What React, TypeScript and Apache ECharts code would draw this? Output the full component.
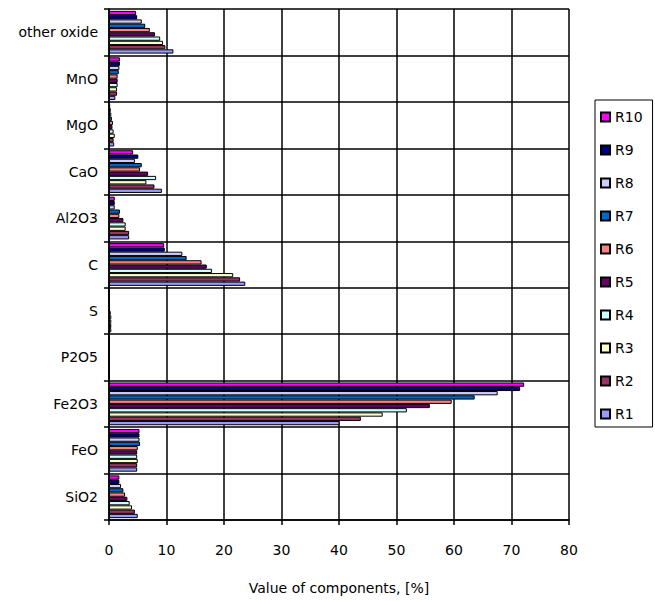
import React, { useEffect, useRef } from "react";
import * as echarts from "echarts";

const categories = ["SiO2", "FeO", "Fe2O3", "P2O5", "S", "C", "Al2O3", "CaO", "MgO", "MnO", "other oxide"];
const seriesNames = ["R1", "R2", "R3", "R4", "R5", "R6", "R7", "R8", "R9", "R10"];
const seriesColors = ["#9999FF", "#993366", "#FFFFCC", "#CCFFFF", "#660066", "#FF8080", "#0066CC", "#CCCCFF", "#000080", "#FF00FF"];
const xTicks = [0, 10, 20, 30, 40, 50, 60, 70, 80];

// values per category, R1..R10
const sio2 = [5.0, 4.5, 4.0, 3.6, 3.2, 2.8, 2.5, 2.1, 1.8, 1.8];
const feo = [4.9, 4.9, 5.0, 4.9, 4.9, 5.0, 5.4, 5.3, 5.3, 5.3];
const fe2o3 = [40.1, 43.8, 47.6, 51.8, 55.8, 59.6, 63.6, 67.6, 71.5, 72.2];
const p2o5 = [0, 0, 0, 0, 0, 0, 0, 0, 0, 0];
const s = [0.4, 0.4, 0.4, 0.4, 0.3, 0, 0, 0, 0, 0];
const c = [23.7, 22.8, 21.6, 17.9, 17.0, 16.1, 13.5, 12.75, 9.7, 9.6];
const al2o3 = [3.5, 3.5, 2.9, 2.9, 2.5, 1.8, 1.9, 1.0, 1.0, 1.0];
const cao = [9.2, 7.9, 6.5, 8.2, 6.8, 5.4, 5.7, 4.5, 5.1, 4.2];
const mgo = [0.9, 0.8, 1.0, 0.8, 0.6, 0.7, 0.5, 0.4, 0.3, 0.2];
const mno = [1.1, 1.4, 1.4, 1.5, 1.5, 1.5, 1.7, 1.8, 1.9, 1.9];
const otherOxide = [11.2, 9.8, 9.4, 8.9, 8.0, 7.1, 6.3, 5.7, 4.9, 4.7];

const byCategory = [sio2, feo, fe2o3, p2o5, s, c, al2o3, cao, mgo, mno, otherOxide];

const FONT = "DejaVu Sans";

export default function App() {
  const ref = useRef<HTMLDivElement>(null);
  useEffect(() => {
    document.body.style.margin = "0";
    const chart = echarts.init(ref.current!, null, { renderer: "svg" });
    const series = seriesNames
      .map((name, i) => ({
        name,
        type: "bar",
        data: byCategory.map((vals) => vals[i]),
        barGap: "0%",
        barCategoryGap: "8%",
        itemStyle: { color: seriesColors[i], borderColor: "#000", borderWidth: 1 },
      }))
      .reverse(); // first series is drawn at the top of each group: put R10 first so R1 sits at the bottom
    chart.setOption({
      animation: false,
      backgroundColor: "#fff",
      textStyle: { fontFamily: FONT },
      grid: { left: 109, top: 9, width: 460, height: 511, containLabel: false },
      xAxis: {
        type: "value",
        min: xTicks[0],
        max: xTicks[xTicks.length - 1],
        interval: 10,
        name: "Value of components, [%]",
        nameLocation: "middle",
        nameGap: 61,
        nameTextStyle: { color: "#000", fontSize: 14, fontFamily: FONT },
        axisLine: { show: true, lineStyle: { color: "#000", width: 1.5 } },
        axisTick: { show: true, length: 5, lineStyle: { color: "#000", width: 1.5 } },
        axisLabel: { color: "#000", fontSize: 14, margin: 23, fontFamily: FONT },
        splitLine: { show: true, lineStyle: { color: "#000", width: 1.5 } },
      },
      yAxis: {
        type: "category",
        data: categories,
        axisLine: { show: true, lineStyle: { color: "#000", width: 1.5 } },
        axisTick: { show: true, length: 5, lineStyle: { color: "#000", width: 1.5 } },
        axisLabel: { color: "#000", fontSize: 14, margin: 11, fontFamily: FONT },
        splitLine: { show: true, lineStyle: { color: "#000", width: 1.5 } },
      },
      legend: {
        orient: "vertical",
        left: 595,
        top: 100,
        data: [...seriesNames].reverse(),
        itemWidth: 9,
        itemHeight: 9,
        itemGap: 19,
        padding: [10, 10, 6, 5],
        borderColor: "#000",
        borderWidth: 1,
        icon: "rect",
        textStyle: { color: "#000", fontSize: 14, lineHeight: 14, fontFamily: FONT },
      },
      series,
    });
    return () => chart.dispose();
  }, []);
  return <div ref={ref} style={{ width: 655, height: 601 }} />;
}
